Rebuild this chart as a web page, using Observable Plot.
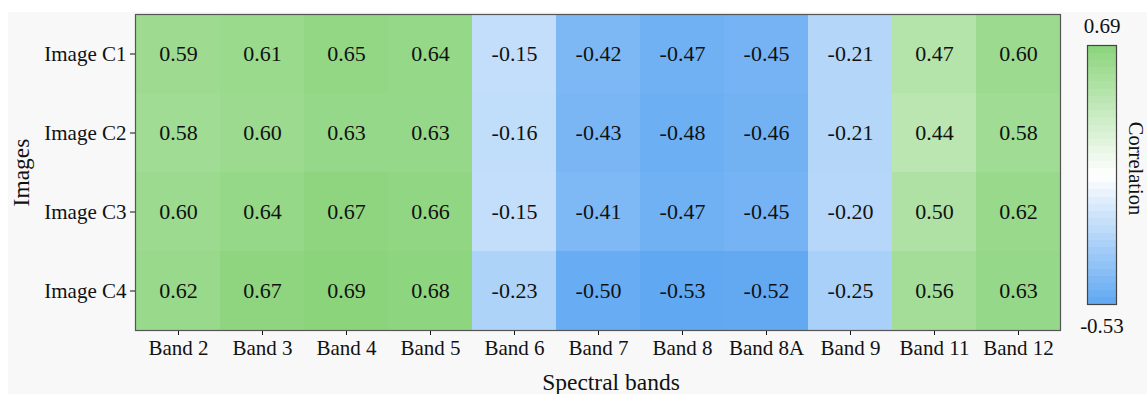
<!DOCTYPE html>
<html>
<head>
<meta charset="utf-8">
<script src="https://cdn.jsdelivr.net/npm/d3@7"></script>
<script src="https://cdn.jsdelivr.net/npm/@observablehq/plot@0.6"></script>
<style>
  html, body { margin: 0; padding: 0; background: #ffffff; }
  #fig { position: relative; width: 1147px; height: 394px; overflow: hidden; }
  #panel { position: absolute; left: 8px; top: 12px; right: 0; bottom: 0; background: #f8f8f8; }
  #heat, #bar { position: absolute; top: 0; }
  #heat { left: 0; }
  #bar { left: 1060px; }
</style>
</head>
<body>
<div id="fig">
  <div id="panel"></div>
  <div id="heat"></div>
  <div id="bar"></div>
</div>
<script>
// Spectral bands (columns) and images (rows)
const bands = ["Band 2", "Band 3", "Band 4", "Band 5", "Band 6", "Band 7", "Band 8", "Band 8A", "Band 9", "Band 11", "Band 12"];
const images = ["Image C1", "Image C2", "Image C3", "Image C4"];

// Correlation per image, one value per band
const imageC1 = [0.59, 0.61, 0.65, 0.64, -0.15, -0.42, -0.47, -0.45, -0.21, 0.47, 0.60];
const imageC2 = [0.58, 0.60, 0.63, 0.63, -0.16, -0.43, -0.48, -0.46, -0.21, 0.44, 0.58];
const imageC3 = [0.60, 0.64, 0.67, 0.66, -0.15, -0.41, -0.47, -0.45, -0.20, 0.50, 0.62];
const imageC4 = [0.62, 0.67, 0.69, 0.68, -0.23, -0.50, -0.53, -0.52, -0.25, 0.56, 0.63];

// Colour bar end labels
const corrMin = -0.53;
const corrMax = 0.69;

const rows = [imageC1, imageC2, imageC3, imageC4];
const cells = rows.flatMap((vals, i) => vals.map((v, j) => ({image: images[i], band: bands[j], value: v})));

const serif = "'Liberation Serif', 'Times New Roman', serif";
const colorScale = {
  type: "linear",
  domain: [corrMin, (corrMin + corrMax) / 2, corrMax],
  range: ["#60a8f2", "#ffffff", "#8bd47c"],
  interpolate: "rgb"
};

// two decimals with a plain hyphen for negatives
const fmt = d3.formatLocale({decimal: ".", thousands: ",", grouping: [3], currency: ["", ""], minus: "-"}).format(".2f");

const heat = Plot.plot({
  width: 1147,
  height: 394,
  marginLeft: 135,
  marginRight: 87,
  marginTop: 14,
  marginBottom: 64,
  style: {fontFamily: serif, fontSize: "21px", background: "transparent", color: "#111"},
  x: {domain: bands, padding: 0, label: null, tickSize: 5, tickPadding: 5},
  y: {domain: images, padding: 0, label: null, tickSize: 5, tickPadding: 4},
  color: colorScale,
  marks: [
    Plot.cell(cells, {x: "band", y: "image", fill: "value", inset: 0}),
    Plot.text(cells, {x: "band", y: "image", text: d => fmt(d.value), fontSize: 22, fill: "#111"}),
    Plot.frame({stroke: "#555", strokeWidth: 1.2}),
    Plot.text(["Spectral bands"], {frameAnchor: "bottom", dx: 13, dy: 52, lineAnchor: "middle", textAnchor: "middle", text: d => d, fontSize: 23.5, fill: "#111"}),
    Plot.text(["Images"], {frameAnchor: "left", dx: -114, rotate: -90, lineAnchor: "middle", textAnchor: "middle", text: d => d, fontSize: 23.5, fill: "#111"})
  ]
});
document.getElementById("heat").appendChild(heat);

// Vertical colour bar sharing the same colour scale
const bar = Plot.plot({
  width: 87,
  height: 394,
  marginLeft: 27,
  marginRight: 31,
  marginTop: 45,
  marginBottom: 90,
  style: {fontFamily: serif, fontSize: "21px", background: "transparent", color: "#111", overflow: "visible"},
  x: {domain: [0, 1], axis: null},
  y: {domain: [corrMin, corrMax], axis: null},
  color: colorScale,
  marks: [
    Plot.raster({x1: 0, x2: 1, y1: corrMin, y2: corrMax, width: 1, height: 36, fill: (x, y) => y, imageRendering: "pixelated"}),
    Plot.frame({stroke: "#444", strokeWidth: 1.2}),
    Plot.text([fmt(corrMax)], {frameAnchor: "top", dy: -19, lineAnchor: "middle", textAnchor: "middle", text: d => d, fontSize: 21, fill: "#111"}),
    Plot.text([fmt(corrMin)], {frameAnchor: "bottom", dy: 22, lineAnchor: "middle", textAnchor: "middle", text: d => d, fontSize: 21, fill: "#111"}),
    Plot.text(["Correlation"], {frameAnchor: "right", dx: 19.5, dy: -6.5, rotate: 90, lineAnchor: "middle", textAnchor: "middle", text: d => d, fontSize: 20.5, fill: "#111"})
  ]
});
document.getElementById("bar").appendChild(bar);
</script>
</body>
</html>
